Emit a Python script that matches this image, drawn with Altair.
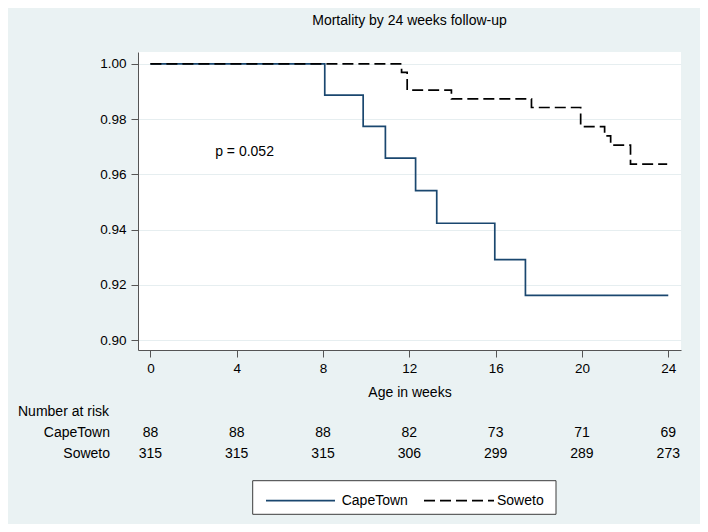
import altair as alt
import pandas as pd

# ---- data ----
groups = ["CapeTown", "Soweto"]
cape_times = [0, 8.08, 9.86, 10.89, 12.29, 13.27, 15.96, 17.38, 24]
cape_surv = [1.0, 0.9887, 0.9774, 0.9659, 0.9541, 0.9423, 0.9291, 0.9162, 0.9162]
soweto_times = [0, 11.64, 11.90, 13.95, 17.66, 19.94, 21.05, 21.33, 22.25, 23.95]
soweto_surv = [1.0, 0.9969, 0.9905, 0.9873, 0.9842, 0.9773, 0.9739, 0.9706, 0.9637, 0.9637]
risk_times = [0, 4, 8, 12, 16, 20, 24]
risk_cape = [88, 88, 88, 82, 73, 71, 69]
risk_soweto = [315, 315, 315, 306, 299, 289, 273]
x_ticks = [0, 4, 8, 12, 16, 20, 24]
y_ticks = [0.90, 0.92, 0.94, 0.96, 0.98, 1.00]
p_label = "p = 0.052"

FONT = "Liberation Sans"
BG = "#eaf2f3"
LINE_COLORS = ["#1a476f", "#000000"]
DASHES = [[1, 0], [11, 5]]

W, H = 543, 298

km = pd.DataFrame(
    [{"group": "CapeTown", "t": t, "s": s, "o": i} for i, (t, s) in enumerate(zip(cape_times, cape_surv))]
    + [{"group": "Soweto", "t": t, "s": s, "o": i} for i, (t, s) in enumerate(zip(soweto_times, soweto_surv))]
)

xscale = alt.Scale(domain=[-0.575, 24.59], nice=False, zero=False)
yscale = alt.Scale(domain=[0.8964, 1.0043], nice=False, zero=False)

lines = alt.Chart(km).mark_line(interpolate="step-after", strokeWidth=1.7).encode(
    x=alt.X("t:Q", scale=xscale,
            axis=alt.Axis(values=x_ticks, format="d", title="Age in weeks", grid=False,
                          tickSize=7, labelPadding=4, titleY=42.7, titleBaseline="middle",
                          titleFontSize=14, titleFontWeight="normal", titleFont=FONT, titleColor="#000")),
    y=alt.Y("s:Q", scale=yscale,
            axis=alt.Axis(values=y_ticks, format=".2f", title=None, grid=True,
                          tickSize=7, labelPadding=5)),
    color=alt.Color("group:N", scale=alt.Scale(domain=groups, range=LINE_COLORS), legend=None),
    strokeDash=alt.StrokeDash("group:N", scale=alt.Scale(domain=groups, range=DASHES), legend=None),
    order="o:Q",
)

ptext = alt.Chart(pd.DataFrame({"t": [3.0], "s": [0.968], "label": [p_label]})).mark_text(
    align="left", baseline="middle", fontSize=14, font=FONT, color="#000"
).encode(x="t:Q", y="s:Q", text="label:N")

# number at risk table
risk_df_c = pd.DataFrame({"t": risk_times, "n": risk_cape})
risk_df_s = pd.DataFrame({"t": risk_times, "n": risk_soweto})
rc = alt.Chart(risk_df_c).mark_text(fontSize=14, font=FONT, color="#000", baseline="middle").encode(
    x="t:Q", y=alt.value(381.3), text="n:Q")
rs = alt.Chart(risk_df_s).mark_text(fontSize=14, font=FONT, color="#000", baseline="middle").encode(
    x="t:Q", y=alt.value(402.3), text="n:Q")
row_lab = alt.Chart(pd.DataFrame({"g": groups, "yy": [381.3, 402.3]})).mark_text(
    fontSize=14, font=FONT, color="#000", align="right", baseline="middle"
).encode(x=alt.value(-28), y=alt.Y("yy:Q", scale=None), text="g:N")
risk_head = alt.Chart(pd.DataFrame({"h": ["Number at risk"]})).mark_text(
    fontSize=14, font=FONT, color="#000", align="left", baseline="middle"
).encode(x=alt.value(-120), y=alt.value(359.7), text="h:N")

# legend box
leg_box = alt.Chart(pd.DataFrame({"a": [0]})).mark_rect(
    fill="white", stroke="#3c3c3c", strokeWidth=1
).encode(x=alt.value(114.7), x2=alt.value(418), y=alt.value(428.7), y2=alt.value(462.3))
leg_df = pd.DataFrame({"group": groups, "x0": [128, 286], "x1": [197, 356], "xt": [203.7, 359]})
leg_lines = alt.Chart(leg_df).mark_rule(strokeWidth=1.7).encode(
    x=alt.X("x0:Q", scale=None), x2="x1:Q", y=alt.value(448.7),
    color=alt.Color("group:N", scale=alt.Scale(domain=groups, range=LINE_COLORS), legend=None),
    strokeDash=alt.StrokeDash("group:N", scale=alt.Scale(domain=groups, range=DASHES), legend=None),
)
leg_text = alt.Chart(leg_df).mark_text(
    fontSize=14, font=FONT, color="#000", align="left", baseline="middle"
).encode(x=alt.X("xt:Q", scale=None), y=alt.value(448.7), text="group:N")

chart = alt.layer(
    lines, ptext, rc, rs, row_lab, risk_head, leg_box, leg_lines, leg_text
).resolve_scale(x="shared").properties(
    width=W, height=H,
    autosize=alt.AutoSizeParams(type="none"),
    padding={"left": 130, "top": 44, "right": 19, "bottom": 174},
    background=BG,
    title=alt.TitleParams("Mortality by 24 weeks follow-up", fontSize=14, font=FONT,
                          fontWeight="normal", color="#000", anchor="middle",
                          baseline="alphabetic", offset=13.5),
).configure_view(fill="white", stroke=None).configure_axis(
    labelFont=FONT, labelFontSize=13.5, labelColor="#000",
    domainColor="#555555", tickColor="#555555", domainWidth=1, tickWidth=1,
    gridColor="#e6eef0", gridWidth=1,
)

chart.save("out.html", embed_options={"renderer": "svg", "actions": False})
